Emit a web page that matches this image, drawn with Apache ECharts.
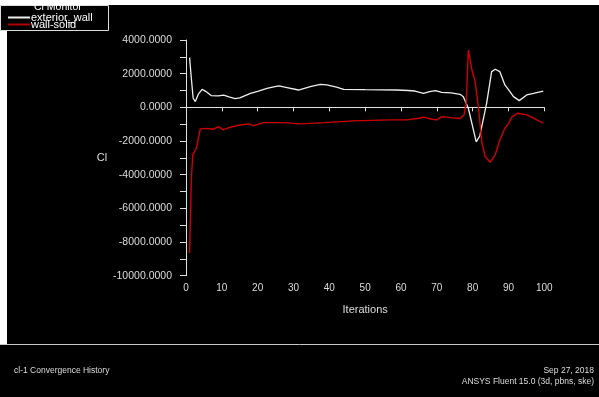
<!DOCTYPE html>
<html><head><meta charset="utf-8">
<script src="https://cdn.jsdelivr.net/npm/echarts@6/dist/echarts.min.js"></script>
<style>html,body{margin:0;padding:0;background:#000}#c{width:599px;height:397px}</style>
</head><body><div id="c"></div>
<script>
// Cl monitor data
const wallIter = [1, 1.5, 2, 2.6, 3.5, 4.5, 5.5, 7, 9, 10.5, 12, 13.7, 15, 18, 20, 22.6, 24.5, 25.9, 28.2, 31.4, 34.7, 37.5, 39.3, 42, 44, 50, 58.8, 62, 63.9, 66.3, 68, 69.6, 71.4, 74, 76.5, 77.4, 78.8, 79.3, 81, 82, 83.9, 85.3, 86.3, 87.6, 89, 90.4, 91.4, 93, 95.1, 97, 99.7];
const wallCl = [2950, 1700, 540, 340, 800, 1070, 950, 700, 680, 720, 620, 520, 560, 835, 950, 1130, 1220, 1270, 1170, 1030, 1230, 1370, 1330, 1200, 1070, 1050, 1030, 1000, 970, 835, 930, 990, 895, 860, 775, 635, -55, -155, -2050, -1700, 240, 2120, 2260, 2120, 1330, 930, 635, 400, 735, 830, 970];
const solidIter = [1, 1.5, 1.9, 2.9, 4, 5.5, 7.7, 9.1, 10.3, 12.4, 14.7, 17.5, 18.9, 21.6, 27.2, 31.9, 38.8, 46.8, 57, 61.6, 64.9, 66.3, 68.6, 70, 71.4, 73.7, 76.5, 77.6, 78.2, 78.8, 79.8, 80.7, 81.6, 82.6, 83.5, 84.9, 86.3, 87.6, 89, 90, 90.9, 92.5, 95.1, 97.5, 99.7];
const solidCl = [-8650, -4200, -2820, -2430, -1280, -1250, -1300, -1140, -1340, -1180, -1060, -985, -1085, -905, -905, -980, -905, -805, -745, -745, -645, -585, -705, -745, -550, -610, -660, -450, 240, 3400, 2220, 1525, 40, -2130, -2920, -3260, -2820, -1930, -1240, -985, -585, -350, -450, -700, -945];
const seriesNames = ['exterior_wall', 'wall-solid'];
const xTicks = {min: 0, max: 100, step: 10};
const yTicks = {min: -10000, max: 4000, step: 1000, labelStep: 2000};

const pair = (xs, ys) => xs.map((x, i) => [x, ys[i]]);
const FONT = 'Liberation Sans, Arial, sans-serif';
const TXT = '#dcdcdc';
const legendBase = {
  orient: 'vertical', left: 8, itemWidth: 22, itemHeight: 2, itemGap: 0, padding: 0,
  icon: 'rect', selectedMode: false,
  textStyle: {color: '#fff', fontFamily: FONT, fontSize: 11, padding: [0, 0, 0, -4]}
};
const chart = echarts.init(document.getElementById('c'));
chart.setOption({
  animation: false,
  backgroundColor: '#000',
  grid: {left: 186, right: 54.7, top: 40, bottom: 121.3, containLabel: false},
  legend: [
    Object.assign({}, legendBase, {data: [seriesNames[0]], top: 12}),
    Object.assign({}, legendBase, {data: [seriesNames[1]], top: 19})
  ],
  xAxis: {
    type: 'value', min: xTicks.min, max: xTicks.max, interval: xTicks.step,
    name: 'Iterations', nameLocation: 'middle', nameGap: 29,
    nameTextStyle: {color: TXT, fontFamily: FONT, fontSize: 11},
    axisLine: {show: true, lineStyle: {color: '#e0e0e0', width: 1}},
    axisTick: {show: true, length: 4, lineStyle: {color: '#e0e0e0'}},
    axisLabel: {color: TXT, fontFamily: FONT, fontSize: 10, margin: 8},
    splitLine: {show: false}
  },
  yAxis: {
    type: 'value', min: yTicks.min, max: yTicks.max, interval: yTicks.step,
    name: 'Cl', nameLocation: 'middle', nameRotate: 0, nameGap: 76,
    nameTextStyle: {color: TXT, fontFamily: FONT, fontSize: 11},
    axisLine: {show: true, lineStyle: {color: '#e0e0e0', width: 1}},
    axisTick: {show: true, length: 6, lineStyle: {color: '#e0e0e0'}},
    axisLabel: {color: TXT, fontFamily: FONT, fontSize: 10.5, margin: 14,
      formatter: v => (Math.round(v) % yTicks.labelStep === 0 ? v.toFixed(4) : '')},
    splitLine: {show: false}
  },
  series: [
    {name: seriesNames[0], type: 'line', data: pair(wallIter, wallCl), showSymbol: false,
      lineStyle: {color: '#eeeeee', width: 1.3}, itemStyle: {color: '#eeeeee'}},
    {name: seriesNames[1], type: 'line', data: pair(solidIter, solidCl), showSymbol: false,
      lineStyle: {color: '#d00000', width: 1.4}, itemStyle: {color: '#b00000'}}
  ],
  graphic: [
    {type: 'rect', z: -10, shape: {x: 0, y: 0, width: 599, height: 5}, style: {fill: '#fff'}},
    {type: 'rect', z: -10, shape: {x: 0, y: 0, width: 7, height: 344}, style: {fill: '#fff'}},
    {type: 'rect', z: -5, shape: {x: 0.5, y: 5.5, width: 108, height: 25}, style: {fill: '#000', stroke: '#dddddd', lineWidth: 1}},
    {type: 'text', z: 10, left: 34, top: 2, style: {text: 'Cl Monitor', fill: '#fff', font: '10.5px ' + FONT}},
    {type: 'line', shape: {x1: 0, y1: 344.5, x2: 599, y2: 344.5}, style: {stroke: '#c8c8c8', lineWidth: 1}},
    {type: 'text', left: 14, top: 366, style: {text: 'cl-1 Convergence History', fill: TXT, font: '8.5px ' + FONT}},
    {type: 'text', right: 5, top: 366, style: {text: 'Sep 27, 2018', fill: TXT, font: '8.5px ' + FONT, align: 'right'}},
    {type: 'text', right: 5, top: 377, style: {text: 'ANSYS Fluent 15.0 (3d, pbns, ske)', fill: TXT, font: '8.5px ' + FONT, align: 'right'}}
  ]
});
</script></body></html>
